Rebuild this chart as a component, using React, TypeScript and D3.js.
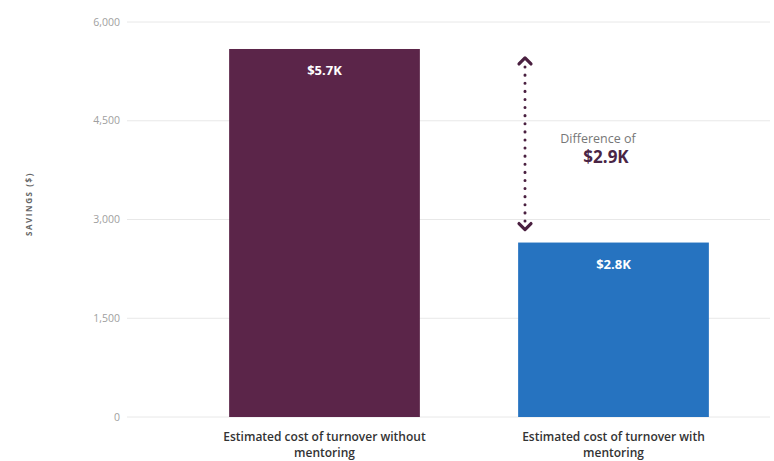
import React from "react";
import * as d3 from "d3";

const categories = ["Estimated cost of turnover without mentoring", "Estimated cost of turnover with mentoring"];
const categoryLines = [["Estimated cost of turnover without", "mentoring"], ["Estimated cost of turnover with", "mentoring"]];
const values = [5590, 2650];
const valueLabels = ["$5.7K", "$2.8K"];
const barColors = ["#5b2549", "#2673c0"];
const ticks = [0, 1500, 3000, 4500, 6000];
const yAxisLabel = "SAVINGS ($)";
const differenceLabel = "Difference of";
const differenceValue = "$2.9K";

export default function App() {
  const W = 774, H = 461;
  const y = d3.scaleLinear().domain([0, 6000]).range([417, 22]);
  const x = d3.scaleBand<string>().domain(categories).range([180, 758]).paddingInner(0.34).paddingOuter(0.17);
  const fmt = d3.format(",");
  const font = "'Open Sans', sans-serif";
  const arrowX = 525;
  const topY = y(values[0]) + 9;
  const botY = y(values[1]) - 13;
  return (
    <svg width={W} height={H} style={{ position: "absolute", left: 0, top: 0, background: "#fff" }} fontFamily={font}>
      {ticks.map((t) => (
        <g key={t}>
          <line x1={127} x2={770} y1={y(t)} y2={y(t)} stroke="#e8e8e8" strokeWidth={1} />
          <text x={120} y={y(t)} dy="0.35em" textAnchor="end" fontSize={10.5} fill="#a0a0a0">{fmt(t)}</text>
        </g>
      ))}
      <text transform={`translate(32,${204}) rotate(-90)`} textAnchor="middle" fontSize={8} fill="#666" letterSpacing={1.6} fontWeight={700}>{yAxisLabel}</text>
      {categories.map((c, i) => (
        <g key={c}>
          <rect x={x(c)} y={y(values[i])} width={x.bandwidth()} height={y(0) - y(values[i])} fill={barColors[i]} />
          <text x={(x(c) as number) + x.bandwidth() / 2} y={y(values[i]) + 26} textAnchor="middle" fontSize={13} fontWeight={700} fill="#fff">{valueLabels[i]}</text>
          {categoryLines[i].map((ln, j) => (
            <text key={j} x={(x(c) as number) + x.bandwidth() / 2} y={441 + j * 16} textAnchor="middle" fontSize={12} fontWeight={600} fill="#333">{ln}</text>
          ))}
        </g>
      ))}
      <line x1={arrowX} x2={arrowX} y1={topY + 9} y2={botY - 7} stroke="#4a2040" strokeWidth={3} strokeDasharray="0.1,8" strokeLinecap="round" />
      <path d={`M${arrowX - 6},${topY + 6} L${arrowX},${topY} L${arrowX + 6},${topY + 6}`} fill="none" stroke="#4a2040" strokeWidth={3.2} strokeLinecap="round" strokeLinejoin="round" />
      <path d={`M${arrowX - 6},${botY - 6} L${arrowX},${botY} L${arrowX + 6},${botY - 6}`} fill="none" stroke="#4a2040" strokeWidth={3.2} strokeLinecap="round" strokeLinejoin="round" />
      <text x={598} y={143} textAnchor="middle" fontSize={12.5} fill="#777">{differenceLabel}</text>
      <text x={606} y={163} textAnchor="middle" fontSize={17} fontWeight={700} fill="#4a2545">{differenceValue}</text>
    </svg>
  );
}
